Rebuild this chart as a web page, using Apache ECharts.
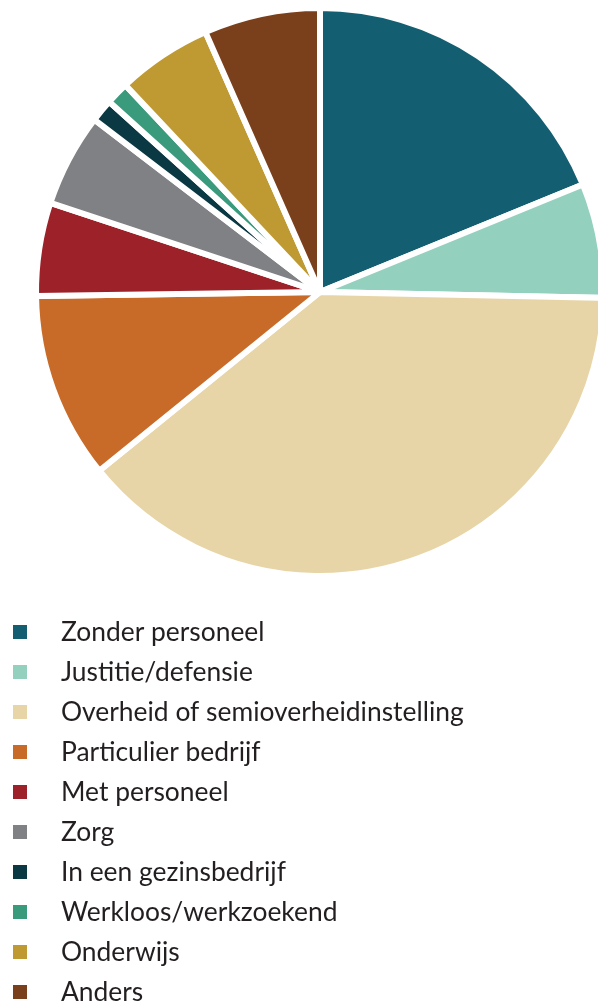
<!DOCTYPE html>
<html>
<head>
<meta charset="utf-8">
<script src="https://cdn.jsdelivr.net/npm/echarts@6/dist/echarts.min.js"></script>
<style>
html,body{margin:0;padding:0;background:#fff;}
#chart{width:598px;height:1001px;}
</style>
</head>
<body>
<div id="chart"></div>
<script>
var categories = ["Zonder personeel","Justitie/defensie","Overheid of semioverheidinstelling","Particulier bedrijf","Met personeel","Zorg","In een gezinsbedrijf","Werkloos/werkzoekend","Onderwijs","Anders"];
var values = [18.8, 6.5, 38.8, 10.6, 5.3, 5.3, 1.3, 1.3, 5.4, 6.6];
var colors = ["#135E70","#93D0BE","#E8D5A7","#C86A28","#9C2129","#808184","#0A3843","#3A9A7C","#BF9931","#7A3F1B"];

var data = categories.map(function(c,i){ return {name:c, value:values[i], itemStyle:{color:colors[i]}}; });

var chart = echarts.init(document.getElementById('chart'), null, {renderer:'canvas'});
chart.setOption({
  animation:false,
  color: colors,
  legend:{
    orient:'vertical',
    left:11,
    top:619,
    height:440,
    padding:0,
    icon:'rect',
    itemWidth:16,
    itemHeight:16,
    itemGap:14,
    selectedMode:false,
    textStyle:{fontFamily:'Lato',fontSize:26.4,color:'#231F20',lineHeight:26,padding:[0,0,0,28]},
    data:categories
  },
  series:[{
    type:'pie',
    center:[320,292],
    radius:[0,284],
    startAngle:90,
    clockwise:true,
    label:{show:false},
    labelLine:{show:false},
    emphasis:{disabled:true},
    itemStyle:{borderColor:'#ffffff',borderWidth:6},
    data:data
  }]
});
</script>
</body>
</html>
